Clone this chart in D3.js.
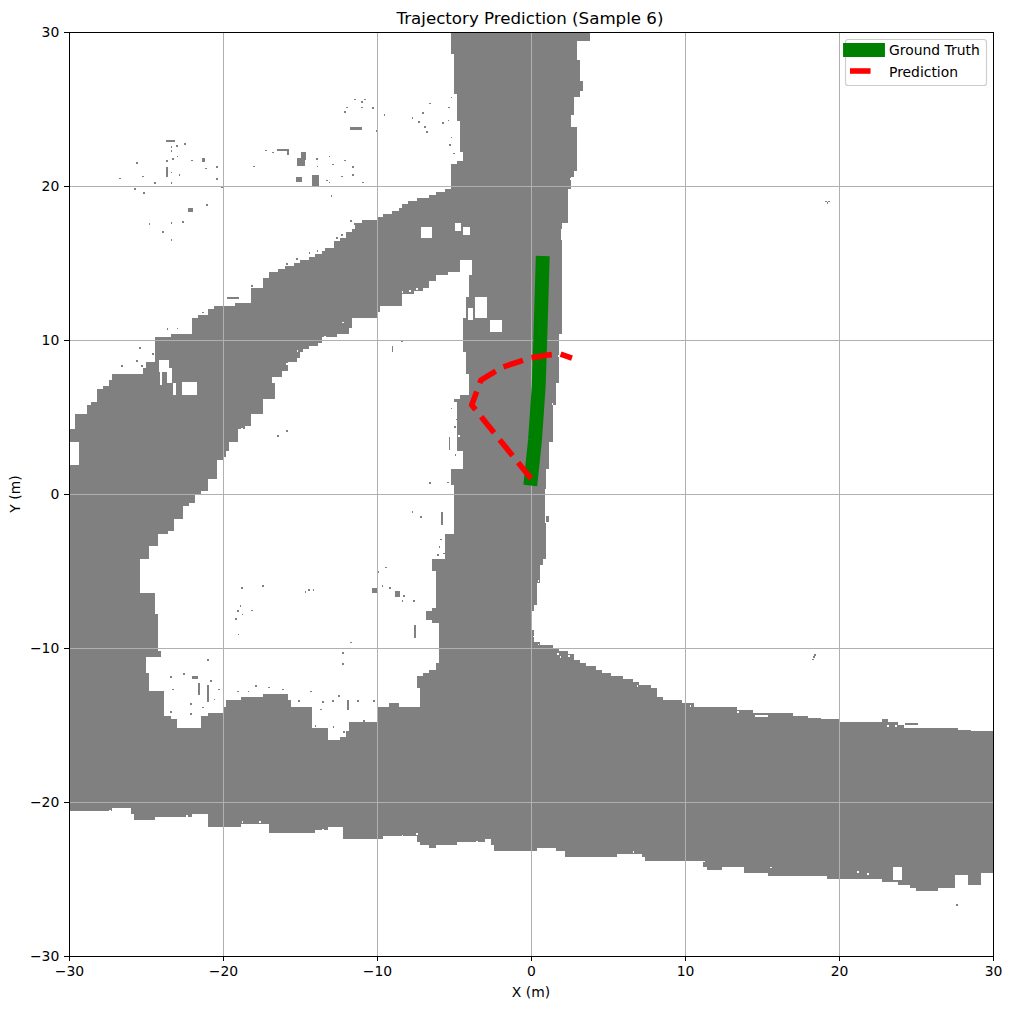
<!DOCTYPE html>
<html><head><meta charset="utf-8">
<script src="https://cdn.jsdelivr.net/npm/d3@7/dist/d3.min.js"></script>
<style>html,body{margin:0;padding:0;background:#fff}svg{display:block}text{font-family:"DejaVu Sans",sans-serif;fill:#000}</style>
</head><body><svg id="c" width="1011" height="1009"></svg>
<script>
const titleText = "Trajectory Prediction (Sample 6)";
const xLabel = "X (m)", yLabel = "Y (m)";
const tickValues = [-30,-20,-10,0,10,20,30];
const legendLabels = ["Ground Truth","Prediction"];

// Drivable-area outline, metres
const mapOuter = [[-5.13,30],[3.70,30],[3.70,29.48],[3.12,29.35],[3.05,28.18],[3.38,26.23],[3.25,25.78],[2.79,25.39],[2.66,23.83],[2.92,23.64],[3.05,21.49],[2.86,20.58],[2.34,19.55],[2.40,17.60],[2.01,17.14],[2.01,15.0],[2.08,13.25],[2.01,11.95],[1.88,10.0],[1.75,8.51],[1.69,6.75],[1.43,5.0],[1.36,3.31],[1.10,1.56],[1.04,-0.19],[1.10,-1.88],[0.91,-4.29],[0.58,-5.39],[0.45,-6.88],[0.06,-7.99],[0.13,-9.68],[1.43,-10.0],[3.18,-10.97],[4.68,-11.56],[6.56,-12.21],[8.18,-12.73],[8.18,-13.25],[9.87,-13.51],[10.97,-13.90],[12.92,-13.90],[14.42,-14.16],[17.92,-14.35],[19.61,-14.68],[20.06,-14.81],[22.86,-14.68],[24.16,-15.13],[27.66,-15.19],[30,-15.52],[30,-24.55],[29.29,-24.61],[29.16,-25.39],[27.08,-25.58],[26.04,-25.84],[25.06,-25.58],[22.86,-25.06],[20.06,-24.94],[16.30,-24.74],[14.03,-24.61],[13.77,-24.22],[11.43,-24.42],[11.17,-23.90],[7.53,-23.90],[7.27,-23.31],[5.13,-23.57],[2.53,-23.57],[1.69,-22.92],[0.06,-23.25],[-2.27,-23.12],[-2.53,-22.47],[-6.17,-22.92],[-7.27,-22.66],[-7.47,-22.14],[-10.52,-22.40],[-12.01,-22.34],[-12.27,-21.62],[-14.42,-22.01],[-16.82,-21.95],[-17.01,-21.36],[-20.06,-21.62],[-20.91,-21.49],[-21.10,-20.84],[-24.81,-21.17],[-25.78,-21.04],[-25.91,-20.39],[-28.05,-20.65],[-30,-20.65],[-30,4.29],[-29.55,4.29],[-29.55,5.13],[-28.90,5.13],[-28.83,5.78],[-28.18,6.23],[-28.18,6.75],[-27.40,7.08],[-27.27,7.73],[-25.45,7.86],[-24.94,8.57],[-24.35,8.70],[-24.35,10.19],[-22.01,10.52],[-22.01,11.43],[-20.58,12.14],[-18.31,12.47],[-18.12,13.38],[-17.47,13.44],[-17.40,14.09],[-15.91,14.74],[-14.42,15.39],[-13.31,16.04],[-12.01,16.95],[-11.36,17.60],[-10.06,17.99],[-8.57,18.57],[-8.38,18.90],[-6.62,19.42],[-5.19,19.94],[-5.19,21.49],[-4.42,21.69],[-4.61,23.18],[-4.81,25.58],[-5.06,27.34]];
const mapHole = [[-3.83,15.19],[-4.68,15.13],[-4.68,14.35],[-5.78,14.22],[-6.62,13.44],[-8.44,12.73],[-8.44,12.27],[-9.55,12.27],[-10.0,11.49],[-11.36,11.30],[-11.82,10.45],[-13.12,10.13],[-13.90,9.55],[-14.87,9.16],[-15.26,8.51],[-16.17,7.60],[-16.88,7.60],[-16.56,6.30],[-17.47,5.97],[-17.47,5.26],[-18.18,5.13],[-18.18,4.35],[-18.96,3.96],[-18.96,3.38],[-19.61,3.38],[-19.74,2.40],[-20.39,2.01],[-20.39,1.04],[-21.04,0.91],[-21.04,0.13],[-21.82,0.06],[-21.82,-0.58],[-22.60,-0.84],[-22.60,-1.56],[-23.25,-1.82],[-23.25,-2.47],[-24.09,-2.66],[-24.22,-3.31],[-24.87,-3.44],[-24.87,-4.16],[-25.39,-4.22],[-25.39,-6.36],[-24.42,-6.56],[-24.29,-8.18],[-24.09,-10.65],[-24.94,-10.71],[-24.87,-12.86],[-23.77,-12.92],[-23.90,-14.48],[-22.99,-14.55],[-22.92,-15.19],[-21.49,-15.13],[-21.49,-14.35],[-20.0,-14.03],[-19.87,-13.38],[-17.40,-13.05],[-15.84,-12.92],[-15.65,-13.83],[-14.22,-13.70],[-14.16,-15.13],[-13.25,-15.32],[-13.25,-15.97],[-12.40,-15.84],[-11.75,-14.87],[-10.26,-14.81],[-9.94,-13.90],[-8.70,-13.38],[-8.70,-13.90],[-7.21,-13.90],[-7.34,-11.88],[-6.56,-11.43],[-6.04,-10.58],[-6.04,-8.31],[-6.75,-8.18],[-6.75,-7.53],[-6.10,-7.40],[-6.23,-6.04],[-6.36,-4.16],[-5.52,-4.09],[-5.52,-2.53],[-5.0,-2.53],[-5.06,-0.84],[-5.06,0.26],[-5.13,1.56],[-4.42,1.56],[-4.42,2.86],[-4.74,3.05],[-4.74,5.13],[-4.94,6.30],[-4.16,6.43],[-3.96,7.40],[-4.42,10.0],[-4.29,11.95],[-3.83,15.0]];

// Free-space patches [x0,x1,y0,y1]
const freePatches = [[-30,-29.35,1.88,3.38],[-7.14,-6.43,16.62,17.34],[-4.94,-4.55,17.08,17.6],[-4.42,-3.96,16.82,17.34],[-4.09,-3.77,11.30,12.08],[-3.64,-2.86,11.43,12.79],[-2.66,-1.88,10.52,11.30],[-24.16,-23.51,7.92,8.70],[-24.09,-23.96,7.08,7.92],[-23.64,-23.31,7.21,8.18],[-23.25,-23.05,6.43,7.21],[-22.66,-21.69,6.43,7.27],[23.5,24.09,-25.06,-24.22],[27.53,28.38,-26.04,-24.74],[0.88,0.98,-1.9,0.3],[1.95,2.05,16.5,17.2],[14.55,15.39,-14.5,-14.35],[18,19.6,-14.55,-14.42],[27.7,29,-15.3,-15.2]];
// Occupied patches [x0,x1,y0,y1]
const occupiedPatches = [[-23.70,-23.12,22.86,22.96],[-23.7,-23.6,20.58,21.23],[-21.36,-21.2,21.56,21.82],[-16.49,-15.71,22.27,22.4],[-15.84,-15.7,22.0,22.4],[-14.95,-14.6,21.7,22.2],[-15.2,-14.7,21.3,21.85],[-14.22,-13.77,20.0,20.71],[-15.26,-14.87,20.26,20.58],[-11.75,-10.97,23.64,23.83],[-5.78,-5.65,24.03,24.16],[-22.27,-21.95,18.31,18.57],[-7.6,-7.47,-9.35,-8.51],[-5.84,-5.7,-2.01,-1.17],[-7.21,-7.08,-1.55,-1.42],[-10.32,-9.94,-6.43,-6.1],[-8.83,-8.5,-6.69,-6.30],[-19.74,-18.96,12.66,12.8],[24.3,25.1,-15,-14.85],[27.6,27.75,-26.75,-26.6],[-21.04,-20.92,-13.5,-12.4],[-21.6,-21.5,-13.05,-12.3],[-11.95,-11.85,-14.03,-13.4],[-22.0,-21.6,-12.0,-11.85],[-9.05,-8.95,9.2,9.6],[-5.35,-5.25,2.86,3.7]];
// Single occupied cells [x,y]
const occupiedCells = [[-22.53,22.66],[-23.38,22.47],[-23.05,22.53],[-23.38,22.21],[-22.99,21.88],[-23.70,21.56],[-23.31,21.69],[-22.08,21.62],[-21.17,21.10],[-20.45,21.17],[-25.65,21.43],[-25.26,20.58],[-26.75,20.45],[-24.48,20.13],[-23.38,20.84],[-22.86,20.65],[-23.38,20.13],[-20.45,20.39],[-25.78,19.74],[-25.19,19.48],[-20.13,19.87],[-21.10,18.70],[-24.81,17.47],[-23.38,17.53],[-22.66,17.60],[-23.96,16.95],[-23.38,16.43],[-17.27,22.27],[-16.82,22.14],[-18.05,21.23],[-13.96,21.69],[-13.90,21.23],[-13.12,21.88],[-12.92,21.36],[-12.14,21.62],[-11.62,21.17],[-11.62,20.65],[-12.34,20.58],[-13.31,20.32],[-13.12,20.19],[-10.97,20.19],[-12.99,19.29],[-11.49,25.58],[-10.84,25.58],[-11.04,25.39],[-12.01,25.06],[-12.14,24.74],[-11.04,25.06],[-10.32,25.0],[-9.55,24.55],[-10.06,23.51],[-7.73,24.35],[-7.34,24.09],[-7.08,24.68],[-6.62,25.32],[-6.95,23.77],[-6.82,23.44],[-6.62,0.65],[-5.45,0.71],[-7.73,-1.23],[-9.94,-5.13],[-9.48,-4.81],[-9.68,-6.04],[-9.22,-6.17],[-8.31,-6.69],[-8.38,-7.01],[-7.66,-7.01],[-18.83,-6.17],[-17.47,-6.04],[-14.68,-6.43],[-14.48,-6.30],[-14.16,-6.30],[-19.09,-7.66],[-18.77,-7.86],[-19.22,-8.18],[-18.90,-7.34],[-18.18,-7.60],[-19.03,-9.16],[-11.75,-9.68],[-21.04,-10.84],[-12.27,-10.39],[-12.27,-11.10],[18.31,-10.65],[18.4,-10.5],[18.25,-10.8],[19.1,18.95],[19.2,18.85],[19.3,18.95],[-23.44,-11.95],[-22.6,-11.75],[-23.31,-12.73],[-20.6,-13.4],[-22.14,-13.7],[-20.84,-12.2],[-20.32,-12.73],[-23.44,-14.22],[-22.14,-14.35],[-21.36,-13.9],[-15.13,-13.5],[-14.35,-12.86],[-13.57,-13.57],[-12.92,-13.5],[-12.53,-13.18],[-13.7,-14.03],[-14.03,-15.13],[-12.21,-15.52],[-12.86,-15.19],[-10.9,-14.8],[-19.09,-12.86],[-18.38,-12.86],[-17.08,-12.6],[-17.92,-12.53],[-16.17,-12.73],[-11.3,-13.5],[-10.26,-13.5],[-5.9,-3.0],[-6.0,-3.5],[-5.7,-3.9],[-6.1,-4.0],[-5.3,22.6],[-5.2,23.1],[-5.4,24.2],[-5.05,22.05],[-5.39,25.06],[-5.2,25.7],[-11.75,17.67],[-11.49,17.47],[-12.66,16.56],[-12.34,16.76],[-14.42,15.59],[-13.9,15.72],[-15.91,14.88],[-15.26,15.2],[-21.36,11.75],[-20.71,11.62],[-23.64,10.65],[-22.99,10.71],[-25.45,9.42],[-26.62,8.25],[-25.65,8.57],[-25.32,8.25],[-24.61,9.03],[-18.18,13.45],[-15.91,4.03],[-16.49,3.7],[-8.44,9.87],[-4.95,2.5],[-5.0,4.3],[-4.9,4.8],[-5.2,5.5]];
// Single free cells inside the occupied mass [x,y]
const freeCells = [[-18.64,12.73],[-18.31,13.05],[-8.38,13.05],[-7.92,13.12],[-7.47,13.25],[-6.17,14.03],[-9.68,11.95],[-11.17,11.17],[-12.27,11.1],[-13.44,10.19],[-15.2,9.22],[-15.91,8.38],[-15.71,8.05],[-18.83,4.16],[-18.51,4.29],[-17.2,5.91],[-24.61,8.9],[-27.4,-20.65],[-26.75,-20.58],[-26.1,-20.52],[-22.4,-20.97],[-21.69,-21.04],[-18.77,-21.36],[-17.66,-21.36],[-13.57,-21.88],[-12.66,-21.95],[-8.38,-22.27],[-7.47,-22.14],[-3.57,-22.6],[-2.92,-22.6],[5.97,-23.57],[6.62,-23.31],[11.17,-23.9],[15.52,-24.29],[21.17,-24.61],[21.82,-24.74],[1.88,-10.65],[2.4,-10.58],[6.88,-12.53],[8.57,-13.05],[10.32,-13.83],[13.38,-14.22],[23.12,-15.13],[23.64,-15.13],[-5.06,25.13],[-4.94,24.29],[-4.81,22.53],[-4.61,22.01],[-4.61,7.92],[-4.42,7.21],[-4.74,3.7],[-4.81,2.4],[1.36,5.78],[1.75,8.9],[2.08,14.55],[2.14,12.14],[-5.71,-2.99],[-5.78,-3.64],[0.26,-8.38],[0.13,-9.29],[0.45,-9.81],[1.69,-10.45],[0.45,-5.71],[2.53,20.39],[2.66,24.29]];

const groundTruth = [[0,1],[0.26,3.5],[0.5,7],[0.6,10],[0.75,15]];
const prediction = [[0,1.0],[-3.85,5.78],[-3.25,7.4],[-1.82,8.25],[-0.06,8.83],[1.1,9.03],[1.88,9.09],[2.66,8.83]];

const svg = d3.select("#c");
const x = d3.scaleLinear().domain([-30,30]).range([69,993]);
const y = d3.scaleLinear().domain([-30,30]).range([956,32]);
const cell = 0.1, stairRun = 0.5, snap = 0.2;

svg.append("defs").append("clipPath").attr("id","pa").append("rect")
  .attr("x",69).attr("y",32).attr("width",924).attr("height",924);
const plot = svg.append("g").attr("clip-path","url(#pa)");

// Outline drawn as the stair-steps of an occupancy grid
const q = v => Math.round(v/snap)*snap;
function stair(pts){
  const out = [];
  pts.forEach((a,i)=>{
    const b = pts[(i+1)%pts.length];
    const n = Math.max(1, Math.ceil(Math.max(Math.abs(b[0]-a[0]),Math.abs(b[1]-a[1]))/stairRun));
    for(let k=0;k<n;k++){
      const px = q(a[0]+(b[0]-a[0])*k/n), py = q(a[1]+(b[1]-a[1])*k/n);
      if(out.length) out.push([px,out[out.length-1][1]]);
      out.push([px,py]);
    }
  });
  return out;
}
const ring = pts => "M" + stair(pts).map(p => x(p[0]) + "," + y(p[1])).join("L") + "Z";
plot.append("path").attr("d", ring(mapOuter) + ring(mapHole))
  .attr("fill","#808080").attr("fill-rule","evenodd").attr("shape-rendering","crispEdges");

function patches(data, fill){
  plot.append("g").attr("fill",fill).attr("shape-rendering","crispEdges")
    .selectAll("rect").data(data).join("rect")
    .attr("x",d=>x(d[0])).attr("y",d=>y(d[3]))
    .attr("width",d=>x(d[1])-x(d[0])).attr("height",d=>y(d[2])-y(d[3]));
}
function cells(data, fill){
  patches(data.map(d=>[d[0],d[0]+cell,d[1],d[1]+cell]), fill);
}
patches(freePatches,"#fff");
cells(freeCells,"#fff");
patches(occupiedPatches,"#808080");
cells(occupiedCells,"#808080");

// grid
const grid = plot.append("g").attr("stroke","#b0b0b0").attr("stroke-width",1).attr("shape-rendering","crispEdges");
tickValues.forEach(t=>{
  grid.append("line").attr("x1",x(t)+0.5).attr("x2",x(t)+0.5).attr("y1",32).attr("y2",956);
  grid.append("line").attr("y1",y(t)+0.5).attr("y2",y(t)+0.5).attr("x1",69).attr("x2",993);
});

const line = d3.line().x(d=>x(d[0])).y(d=>y(d[1]));
plot.append("path").attr("d",line(groundTruth)).attr("fill","none")
  .attr("stroke","#008000").attr("stroke-width",13.9).attr("stroke-linecap","square").attr("stroke-linejoin","round");
plot.append("path").attr("d",line(prediction)).attr("fill","none")
  .attr("stroke","#ff0000").attr("stroke-width",5.56).attr("stroke-dasharray","20.56 8.89").attr("stroke-linejoin","round");

// axes
const ax = svg.append("g").attr("transform","translate(0,956)").call(d3.axisBottom(x).tickValues(tickValues).tickSize(4.86).tickPadding(4.9));
const ay = svg.append("g").attr("transform","translate(69,0)").call(d3.axisLeft(y).tickValues(tickValues).tickSize(4.86).tickPadding(4.9));
[ax,ay].forEach(a=>{
  a.select(".domain").remove();
  a.selectAll("line").attr("stroke","#000").attr("stroke-width",1).attr("shape-rendering","crispEdges");
  a.selectAll("text").style("font-family",'"DejaVu Sans",sans-serif').style("font-size","13.9px").attr("fill","#000");
});
svg.append("rect").attr("x",69.5).attr("y",32.5).attr("width",924).attr("height",924)
  .attr("fill","none").attr("stroke","#000").attr("stroke-width",1).attr("shape-rendering","crispEdges");

svg.append("text").attr("x",530).attr("y",24).attr("text-anchor","middle").style("font-size","16.67px").text(titleText);
svg.append("text").attr("x",531).attr("y",997).attr("text-anchor","middle").style("font-size","13.9px").text(xLabel);
svg.append("text").attr("transform","translate(20,494) rotate(-90)").attr("text-anchor","middle").style("font-size","13.9px").text(yLabel);

// legend
const lg = svg.append("g");
lg.append("rect").attr("x",845.5).attr("y",39.5).attr("width",141).attr("height",46).attr("rx",2.8)
  .attr("fill","#fff").attr("fill-opacity",0.8).attr("stroke","#ccc").attr("stroke-width",1.11);
lg.append("line").attr("x1",850).attr("x2",878).attr("y1",50).attr("y2",50)
  .attr("stroke","#008000").attr("stroke-width",13.9).attr("stroke-linecap","square");
lg.append("line").attr("x1",850).attr("x2",878).attr("y1",71).attr("y2",71)
  .attr("stroke","#ff0000").attr("stroke-width",5.56).attr("stroke-dasharray","20.56 8.89");
lg.selectAll("text").data(legendLabels).join("text")
  .attr("x",889).attr("y",(d,i)=>55+i*21.5).style("font-size","13.9px").text(d=>d);
</script></body></html>
